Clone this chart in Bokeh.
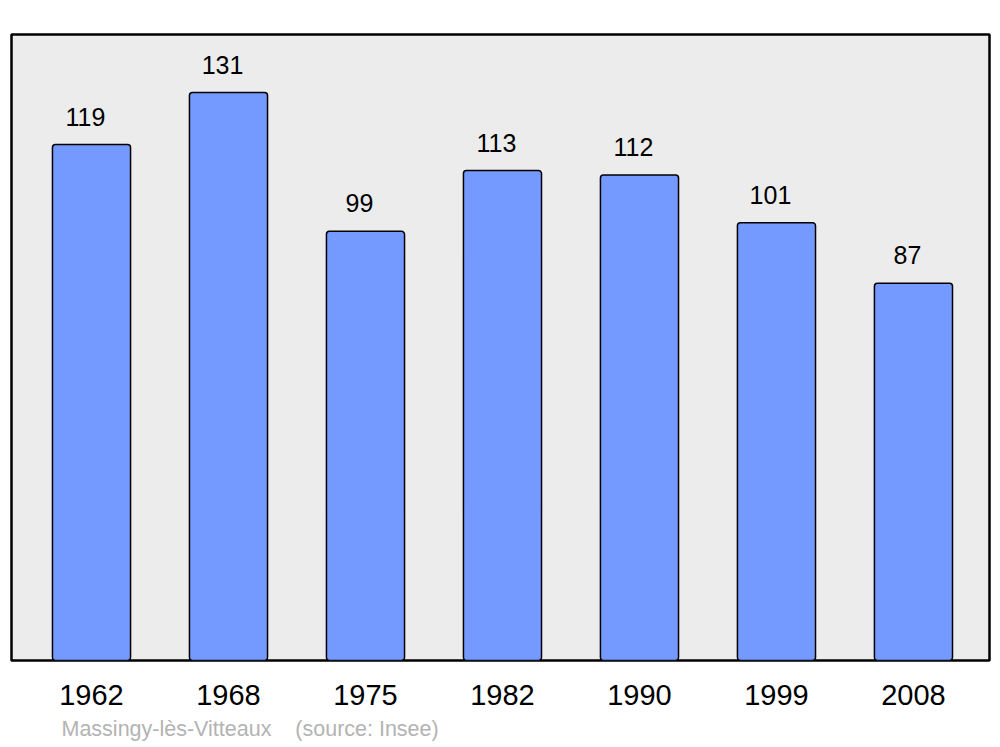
from bokeh.plotting import figure
from bokeh.models import ColumnDataSource, Range1d, FixedTicker, Title
from bokeh.core.properties import value
from bokeh.embed import file_html
from bokeh.resources import INLINE

years = ["1962", "1968", "1975", "1982", "1990", "1999", "2008"]
population = [119, 131, 99, 113, 112, 101, 87]
caption = "Massingy-lès-Vitteaux\u00a0\u00a0\u00a0\u00a0(source: Insee)"

xs = list(range(len(years)))
src = ColumnDataSource(dict(x=xs, top=population, lab=[str(v) for v in population]))

p = figure(width=992, height=747, output_backend="svg", toolbar_location=None,
           x_range=Range1d(-0.584, 6.555), y_range=Range1d(0, 144.4),
           min_border_left=11, min_border_right=3, min_border_top=34, min_border_bottom=80)
p.background_fill_color = "#ececec"
p.border_fill_color = "white"
p.outline_line_color = "black"
p.outline_line_width = 2.5
p.grid.visible = False
p.yaxis.visible = False

p.vbar(x="x", top="top", bottom=0, width=0.57, source=src, fill_color="#7499ff",
       line_color="black", line_width=1.5, border_radius=3)
p.text(x="x", y="top", text="lab", source=src, x_offset=-6, y_offset=-28,
       text_align="center", text_baseline="middle", text_font=value("Liberation Sans"),
       text_font_size="25px", text_color="black")

ax = p.xaxis[0]
ax.ticker = FixedTicker(ticks=xs)
ax.major_label_overrides = {i: y for i, y in enumerate(years)}
ax.axis_line_color = None
ax.major_tick_line_color = None
ax.minor_tick_line_color = None
ax.major_label_standoff = 18
ax.major_label_text_font = "Liberation Sans"
ax.major_label_text_font_size = "29px"
ax.major_label_text_color = "black"

p.add_layout(Title(text=caption, align="left", offset=50, standoff=14,
                   text_font="Liberation Sans", text_font_size="21.5px",
                   text_font_style="normal", text_color="#b3b3b3"), "below")

open("out.html", "w").write(file_html(p, INLINE))
